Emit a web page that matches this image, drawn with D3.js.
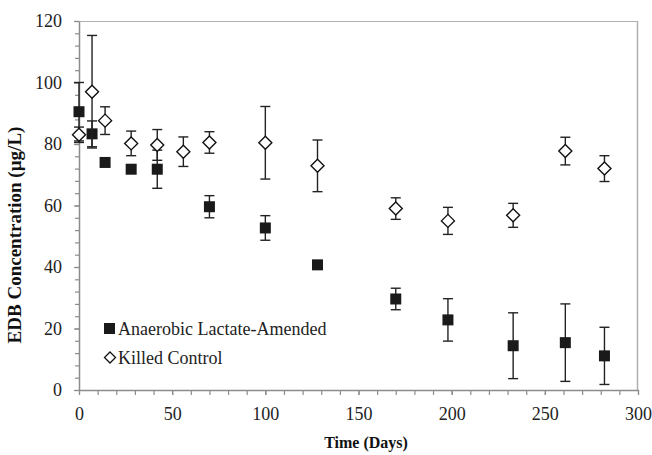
<!DOCTYPE html>
<html>
<head>
<meta charset="utf-8">
<script src="https://cdn.jsdelivr.net/npm/d3@7/dist/d3.min.js"></script>
<style>
  html, body { margin: 0; padding: 0; background: #fff; }
  svg { display: block; }
  svg text { font-family: "Liberation Serif", "Times New Roman", "DejaVu Serif", serif; }
</style>
</head>
<body>
<svg id="chart" width="652" height="455"></svg>
<script>
// EDB concentration over time, two treatments, mean ± error
const lactateDays = [0, 7, 14, 28, 42, 70, 100, 128, 170, 198, 233, 261, 282];
const lactateMean = [90.5, 83.3, 74.0, 71.8, 71.8, 59.6, 52.7, 40.7, 29.6, 22.8, 14.4, 15.4, 11.1];
const lactateErr  = [9.5, 4.2, 0, 0, 6.2, 3.6, 4.0, 0, 3.5, 6.9, 10.7, 12.6, 9.3];

const killedDays = [0, 7, 14, 28, 42, 56, 70, 100, 128, 170, 198, 233, 261, 282];
const killedMean = [83.0, 97.0, 87.6, 80.2, 79.7, 77.5, 80.5, 80.4, 72.9, 59.0, 55.0, 56.8, 77.7, 72.0];
const killedErr  = [2.5, 18.3, 4.5, 4.0, 5.0, 4.8, 3.5, 11.8, 8.4, 3.5, 4.4, 3.9, 4.5, 4.2];

const xTicks = [0, 50, 100, 150, 200, 250, 300];
const yTicks = [0, 20, 40, 60, 80, 100, 120];
const seriesNames = ["Anaerobic Lactate-Amended", "Killed Control"];
const xTitle = "Time (Days)";
const yTitle = "EDB Concentration (\u00b5g/L)";

const serif = '"Liberation Serif", "Times New Roman", "DejaVu Serif", serif';
const svg = d3.select("#chart");
const m = { left: 79, right: 638, top: 21, bottom: 390 };

const x = d3.scaleLinear().domain([0, 300]).range([m.left, m.right]);
const y = d3.scaleLinear().domain([0, 120]).range([m.bottom, m.top]);

const axisColor = "#8c8c8c";
const textColor = "#222";

// frame: top and right edges
svg.append("line").attr("x1", m.left).attr("x2", m.right).attr("y1", m.top + 0.5).attr("y2", m.top + 0.5)
  .attr("stroke", "#b0b0b0").attr("stroke-width", 1.2);
svg.append("line").attr("x1", m.right - 0.5).attr("x2", m.right - 0.5).attr("y1", m.top).attr("y2", m.bottom)
  .attr("stroke", "#b0b0b0").attr("stroke-width", 1.5);

// minor ticks
const xMinor = d3.range(0, 301, 10);
const yMinor = d3.range(0, 121, 4);
svg.append("g").attr("transform", `translate(0,${m.bottom})`)
  .call(d3.axisBottom(x).tickValues(xMinor).tickSize(5).tickFormat(""))
  .call(g => g.select(".domain").remove())
  .call(g => g.selectAll("line").attr("stroke", axisColor).attr("stroke-width", 1.2));
svg.append("g").attr("transform", `translate(${m.left},0)`)
  .call(d3.axisLeft(y).tickValues(yMinor).tickSize(4).tickFormat(""))
  .call(g => g.select(".domain").remove())
  .call(g => g.selectAll("line").attr("stroke", axisColor).attr("stroke-width", 1.2));

// major axes
const xAxis = svg.append("g").attr("transform", `translate(0,${m.bottom})`)
  .call(d3.axisBottom(x).tickValues(xTicks).tickSize(5).tickSizeOuter(0).tickPadding(12).tickFormat(d3.format("d")));
const yAxis = svg.append("g").attr("transform", `translate(${m.left},0)`)
  .call(d3.axisLeft(y).tickValues(yTicks).tickSize(5).tickSizeOuter(0).tickPadding(12).tickFormat(d3.format("d")));
[xAxis, yAxis].forEach(g => {
  g.attr("font-family", serif).attr("font-size", 18);
  g.select(".domain").attr("stroke", axisColor).attr("stroke-width", 1.5);
  g.selectAll(".tick line").attr("stroke", axisColor).attr("stroke-width", 1.2);
  g.selectAll(".tick text").attr("fill", textColor).attr("font-family", serif).attr("font-size", 18);
});

// error bars + markers
function drawSeries(days, mean, err, kind) {
  const g = svg.append("g");
  const cap = 5;
  days.forEach((d, i) => {
    if (err[i] <= 0) return;
    const cx = x(d), y1 = y(mean[i] + err[i]), y2 = y(mean[i] - err[i]);
    g.append("line").attr("x1", cx).attr("x2", cx).attr("y1", y1).attr("y2", y2)
      .attr("stroke", "#222").attr("stroke-width", 1.4);
    [y1, y2].forEach(yy => g.append("line").attr("x1", cx - cap).attr("x2", cx + cap)
      .attr("y1", yy).attr("y2", yy).attr("stroke", "#222").attr("stroke-width", 1.4));
  });
  days.forEach((d, i) => {
    const cx = x(d), cy = y(mean[i]);
    if (kind === "square") {
      g.append("rect").attr("x", cx - 5.5).attr("y", cy - 5.5).attr("width", 11).attr("height", 11)
        .attr("fill", "#1a1a1a");
    } else {
      const r = 6.5;
      g.append("path").attr("d", `M${cx},${cy - r}L${cx + r},${cy}L${cx},${cy + r}L${cx - r},${cy}Z`)
        .attr("fill", "#fff").attr("stroke", "#111").attr("stroke-width", 1.4);
    }
  });
}
drawSeries(lactateDays, lactateMean, lactateErr, "square");
drawSeries(killedDays, killedMean, killedErr, "diamond");

// legend
const lg = svg.append("g").attr("font-family", serif).attr("font-size", 18);
lg.append("rect").attr("x", 104).attr("y", 323).attr("width", 11).attr("height", 11).attr("fill", "#1a1a1a");
lg.append("text").attr("x", 118).attr("y", 335).attr("fill", textColor).text(seriesNames[0]);
lg.append("path").attr("d", "M110,352L115.5,357.5L110,363L104.5,357.5Z")
  .attr("fill", "#fff").attr("stroke", "#111").attr("stroke-width", 1.3);
lg.append("text").attr("x", 118).attr("y", 364).attr("fill", textColor).text(seriesNames[1]);

// axis titles
svg.append("text").attr("x", 366).attr("y", 448).attr("text-anchor", "middle")
  .attr("font-family", serif).attr("font-size", 16).attr("font-weight", "bold")
  .attr("fill", "#111").text(xTitle);
svg.append("text").attr("transform", "translate(21,235) rotate(-90)").attr("text-anchor", "middle")
  .attr("font-family", serif).attr("font-size", 19).attr("font-weight", "bold")
  .attr("fill", "#111").text(yTitle);
</script>
</body>
</html>
